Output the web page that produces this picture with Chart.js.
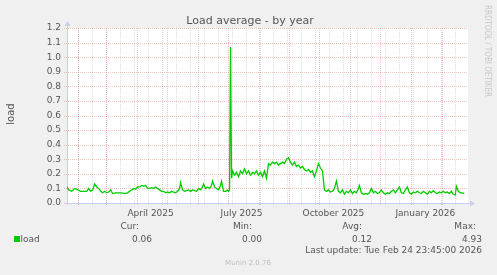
<!DOCTYPE html>
<html>
<head>
<meta charset="utf-8">
<script src="https://cdn.jsdelivr.net/npm/chart.js@4"></script>
<style>
  html, body { margin: 0; padding: 0; background: #f0f0f0; }
  #wrap { width: 497px; height: 275px; }
</style>
</head>
<body>
<div id="wrap"><canvas id="chart" width="497" height="275"></canvas></div>
<script>
// days counted from 1 Jan 2025, load values
const days = [20,22,25,28,31,34,37,40,42,44,46,48,50,52,54,56,58,60,62,64,66,69,72,75,78,81,83,85,87,89,
  91,93,95,97,99,101,103,105,107,109,111,113,115,117,119,121,123,125,127,129,131,133,134,136,138,140,142,144,146,148,
  150,152,154,156,157,159,161,163,165,166,168,170,172,174,175,177,179,181,182,183,184,185,186,188,190,192,194,196,198,200,
  202,204,206,208,210,212,214,216,218,220,222,224,226,228,230,232,234,236,238,240,242,244,246,248,250,252,254,256,258,260,
  262,264,266,268,270,272,274,276,278,280,282,284,286,288,290,292,294,296,298,300,302,304,306,308,310,312,313,315,317,319,
  321,323,325,327,329,331,333,335,337,339,341,343,345,347,349,351,353,355,357,359,361,363,365,367,369,371,373,375,377,379,
  381,383,385,387,389,391,393,395,397,399,401,403,405,407,409,410,412,414,416,418];
const loads = [0.11,0.09,0.08,0.10,0.09,0.08,0.08,0.08,0.10,0.08,0.09,0.13,0.11,0.10,0.08,0.07,0.08,0.07,0.075,0.09,0.065,0.07,0.07,0.07,0.065,0.07,0.08,0.09,0.10,0.095,
  0.11,0.11,0.12,0.115,0.12,0.10,0.10,0.105,0.10,0.11,0.10,0.09,0.08,0.08,0.07,0.075,0.07,0.08,0.075,0.07,0.08,0.10,0.14,0.09,0.08,0.085,0.09,0.08,0.09,0.085,
  0.08,0.10,0.09,0.11,0.13,0.10,0.11,0.10,0.12,0.15,0.11,0.10,0.09,0.12,0.15,0.08,0.08,0.09,0.08,0.09,1.07,0.17,0.22,0.19,0.21,0.18,0.22,0.20,0.235,0.20,
  0.22,0.19,0.21,0.20,0.22,0.19,0.21,0.18,0.22,0.17,0.27,0.26,0.28,0.27,0.28,0.26,0.27,0.28,0.27,0.30,0.31,0.28,0.26,0.28,0.25,0.26,0.24,0.25,0.23,0.22,
  0.23,0.21,0.22,0.18,0.22,0.27,0.24,0.22,0.09,0.08,0.09,0.075,0.08,0.10,0.15,0.08,0.07,0.09,0.06,0.08,0.07,0.09,0.065,0.08,0.07,0.10,0.12,0.07,0.06,0.065,
  0.06,0.07,0.10,0.07,0.08,0.065,0.07,0.09,0.07,0.06,0.07,0.065,0.08,0.09,0.07,0.09,0.11,0.07,0.065,0.09,0.11,0.07,0.06,0.075,0.07,0.08,0.07,0.065,0.08,0.07,
  0.06,0.08,0.07,0.085,0.07,0.065,0.075,0.07,0.08,0.07,0.075,0.065,0.08,0.06,0.055,0.115,0.08,0.07,0.07,0.065];

const tickDays = [104, 195, 287, 379];
const tickLabels = ['April 2025', 'July 2025', 'October 2025', 'January 2026'];
const monthStarts = [31,59,90,120,151,181,212,243,273,304,334,365,396];
const minorDays = [31,45,59,73,87,101,115,129,143,157,171,185,199,213,227,241,255,269,283,297,311,325,339,353,367,381,395,409];
const yTicks = [0,0.1,0.2,0.3,0.4,0.5,0.6,0.7,0.8,0.9,1.0,1.1,1.2];

const FONT = '"DejaVu Sans", sans-serif';
const TXT = '#555';

const munin = {
  id: 'munin',
  beforeDraw(c) {
    const ctx = c.ctx;
    ctx.save();
    ctx.fillStyle = '#f0f0f0';
    ctx.fillRect(0, 0, c.width, c.height);
    const a = c.chartArea;
    ctx.fillStyle = '#fff';
    ctx.fillRect(a.left, a.top, a.right - a.left, a.bottom - a.top);
    ctx.restore();
  },
  beforeDatasetsDraw(c) {
    const ctx = c.ctx, a = c.chartArea;
    const xs = c.scales.x, ys = c.scales.y;
    ctx.save();
    ctx.lineWidth = 1;
    ctx.setLineDash([1, 1]);
    // minor grid
    ctx.strokeStyle = 'rgba(160,160,160,0.35)';
    minorDays.forEach(d => {
      const x = Math.round(xs.getPixelForValue(d)) + 0.5;
      ctx.beginPath(); ctx.moveTo(x, a.top); ctx.lineTo(x, a.bottom + 2); ctx.stroke();
    });
    // major grid
    ctx.strokeStyle = 'rgba(230,110,110,0.42)';
    monthStarts.forEach(d => {
      const x = Math.round(xs.getPixelForValue(d)) + 0.5;
      ctx.beginPath(); ctx.moveTo(x, a.top); ctx.lineTo(x, a.bottom + 3); ctx.stroke();
    });
    yTicks.forEach(v => {
      const y = Math.round(ys.getPixelForValue(v)) + 0.5;
      ctx.beginPath(); ctx.moveTo(a.left - 3, y); ctx.lineTo(a.right, y); ctx.stroke();
    });
    ctx.setLineDash([]);
    // axes with arrows
    ctx.strokeStyle = 'rgb(200,206,245)';
    ctx.fillStyle = 'rgb(200,206,245)';
    const x0 = Math.round(a.left) + 0.5, y0 = Math.round(a.bottom) + 0.5;
    ctx.beginPath(); ctx.moveTo(x0, a.bottom + 2); ctx.lineTo(x0, a.top - 4); ctx.stroke();
    ctx.beginPath(); ctx.moveTo(a.left - 2, y0); ctx.lineTo(a.right + 4, y0); ctx.stroke();
    ctx.beginPath(); ctx.moveTo(x0 - 3, a.top - 2); ctx.lineTo(x0 + 3, a.top - 2); ctx.lineTo(x0, a.top - 7); ctx.closePath(); ctx.fill();
    ctx.beginPath(); ctx.moveTo(a.right + 2, y0 - 3); ctx.lineTo(a.right + 2, y0 + 3); ctx.lineTo(a.right + 7, y0); ctx.closePath(); ctx.fill();
    ctx.restore();
  },
  afterDraw(c) {
    const ctx = c.ctx;
    ctx.save();
    ctx.fillStyle = TXT;
    ctx.textBaseline = 'middle';
    ctx.textAlign = 'center';
    ctx.font = '11px ' + FONT;
    ctx.fillText('Load average - by year', 250, 21);
    // y axis title
    ctx.save();
    ctx.translate(11, 114);
    ctx.rotate(-Math.PI / 2);
    ctx.font = '10px ' + FONT;
    ctx.fillText('load', 0, 0);
    ctx.restore();
    // rrdtool watermark
    ctx.save();
    ctx.translate(487, 51);
    ctx.rotate(Math.PI / 2);
    ctx.fillStyle = '#c8c8c8';
    ctx.font = '8px ' + FONT;
    ctx.fillText('RRDTOOL / TOBI OETIKER', 0, 0, 92);
    ctx.restore();
    // legend
    ctx.font = '9px ' + FONT;
    ctx.textAlign = 'right';
    [['Cur:', 139], ['Min:', 252], ['Avg:', 362], ['Max:', 476]].forEach(h => ctx.fillText(h[0], h[1], 227));
    [['0.06', 152], ['0.00', 262], ['0.12', 372], ['4.93', 482]].forEach(h => ctx.fillText(h[0], h[1], 239.5));
    ctx.fillText('Last update: Tue Feb 24 23:45:00 2026', 482, 251);
    ctx.fillStyle = '#00cc00';
    ctx.fillRect(14, 236, 6, 6);
    ctx.fillStyle = TXT;
    ctx.textAlign = 'left';
    ctx.fillText('load', 20.5, 239.5);
    ctx.textAlign = 'center';
    ctx.fillStyle = '#c0c0c0';
    ctx.font = '7px ' + FONT;
    ctx.fillText('Munin 2.0.76', 248, 263);
    ctx.restore();
  }
};

new Chart(document.querySelector('#chart'), {
  type: 'line',
  data: {
    datasets: [{
      label: 'load',
      data: days.map((d, i) => ({ x: d, y: loads[i] })),
      borderColor: '#00cc00',
      borderWidth: 1.3,
      pointRadius: 0,
      tension: 0
    }]
  },
  options: {
    responsive: false,
    animation: false,
    layout: { padding: { left: 0, right: 29, top: 28, bottom: 0 } },
    plugins: { legend: { display: false }, title: { display: false }, tooltip: { enabled: false } },
    scales: {
      x: {
        type: 'linear',
        min: 20.3,
        max: 421.7,
        grid: { display: false, drawTicks: false },
        border: { display: false },
        afterBuildTicks: s => { s.ticks = tickDays.map(v => ({ value: v })); },
        afterFit: s => { s.height = 72; },
        ticks: {
          autoSkip: false,
          maxRotation: 0,
          padding: 5,
          color: TXT,
          font: { family: FONT, size: 9 },
          callback: (v, i) => tickLabels[i]
        }
      },
      y: {
        min: 0,
        max: 1.2,
        grid: { display: false, drawTicks: false },
        border: { display: false },
        afterBuildTicks: s => { s.ticks = yTicks.map(v => ({ value: v })); },
        afterFit: s => { s.width = 67; },
        ticks: {
          padding: 6,
          color: TXT,
          font: { family: FONT, size: 9 },
          callback: v => v.toFixed(1)
        }
      }
    }
  },
  plugins: [munin]
});
</script>
</body>
</html>
